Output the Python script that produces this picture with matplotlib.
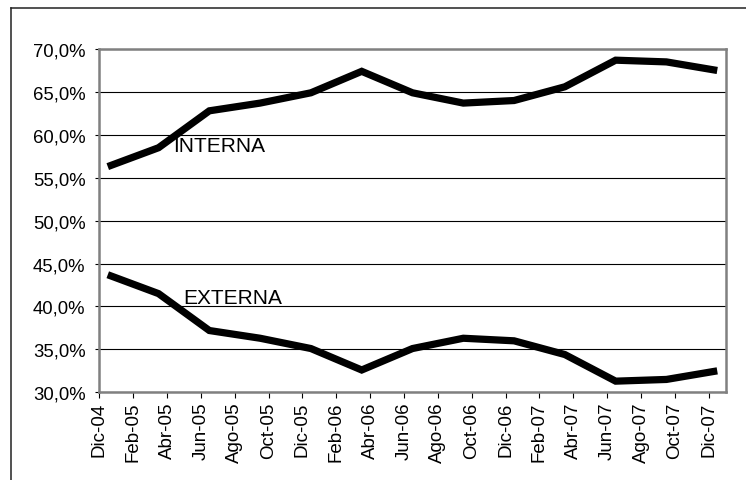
import matplotlib
matplotlib.use("Agg")
import matplotlib.pyplot as plt
from matplotlib.lines import Line2D

plt.rcParams['font.family'] = ['Liberation Sans', 'DejaVu Sans']

# Data (quarterly observations, shares in %)
periods = ["Dic-04", "Mar-05", "Jun-05", "Sep-05", "Dic-05", "Mar-06", "Jun-06",
           "Sep-06", "Dic-06", "Mar-07", "Jun-07", "Sep-07", "Dic-07"]
interna = [56.3, 58.5, 62.8, 63.7, 64.9, 67.4, 64.9, 63.7, 64.0, 65.6, 68.7, 68.5, 67.5]
externa = [43.7, 41.5, 37.2, 36.3, 35.1, 32.6, 35.1, 36.3, 36.0, 34.4, 31.3, 31.5, 32.5]
tick_labels = ["Dic-04", "Feb-05", "Abr-05", "Jun-05", "Ago-05", "Oct-05", "Dic-05",
               "Feb-06", "Abr-06", "Jun-06", "Ago-06", "Oct-06", "Dic-06", "Feb-07",
               "Abr-07", "Jun-07", "Ago-07", "Oct-07", "Dic-07"]
y_ticks = [30, 35, 40, 45, 50, 55, 60, 65, 70]

month_names = ["Ene", "Feb", "Mar", "Abr", "May", "Jun", "Jul", "Ago", "Sep", "Oct", "Nov", "Dic"]

def month_index(lbl):
    m, y = lbl.split("-")
    return (int(y) - 4) * 12 + month_names.index(m) - 11

x_pts = [month_index(p) + 0.5 for p in periods]
x_ticks = [month_index(t) for t in tick_labels]

fig = plt.figure(figsize=(7.46, 4.81), dpi=100)
ax = fig.add_axes([0.1331, 0.1823, 0.9728 - 0.1331, 0.896 - 0.1823])

for v in y_ticks:
    ax.axhline(v, color="black", lw=0.8, zorder=1)

lkw = dict(color="black", lw=5.2, solid_joinstyle="miter", solid_capstyle="butt", zorder=3)
ax.plot(x_pts, interna, **lkw)
ax.plot(x_pts, externa, **lkw)

ax.set_xlim(0, 37)
ax.set_ylim(30, 70)
ax.set_yticks(y_ticks)
ax.set_yticklabels([f"{v:.1f}".replace(".", ",") + "%" for v in y_ticks], fontsize=13.3)
ax.set_xticks(x_ticks)
ax.set_xticklabels(tick_labels, rotation=90, fontsize=13.5)
ax.tick_params(axis="y", length=3, width=0.8, color="black", pad=7)
ax.tick_params(axis="x", length=4.5, width=0.8, color="black", pad=2)
for s in ax.spines.values():
    s.set_color("#808080")
    s.set_linewidth(1.8)

ax.text(4.37, 58.08, "INTERNA", fontsize=15, ha="left", va="baseline", zorder=4)
ax.text(4.93, 40.4, "EXTERNA", fontsize=15, ha="left", va="baseline", zorder=4)

# outer frame
fig.add_artist(Line2D([0.0143, 1.0], [0.9813, 0.9813], transform=fig.transFigure, color="#222222", lw=1.1))
fig.add_artist(Line2D([0.0143, 0.0143], [0.0, 0.9813], transform=fig.transFigure, color="#222222", lw=1.1))

fig.savefig("out.png", dpi=100)
